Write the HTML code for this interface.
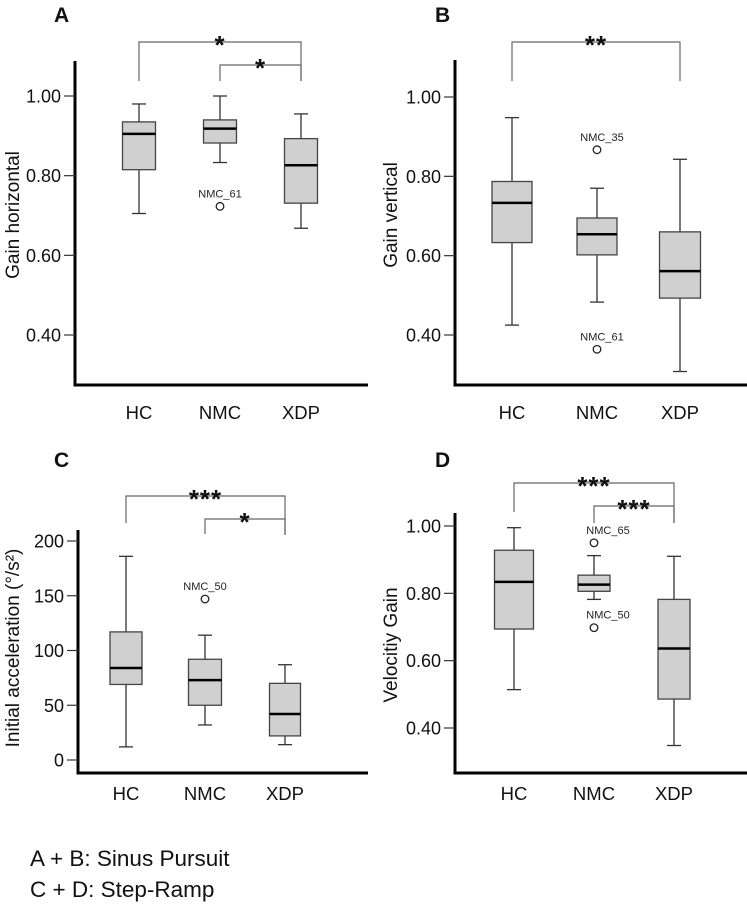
<!DOCTYPE html>
<html><head><meta charset="utf-8">
<style>
html,body{margin:0;padding:0;background:#fff;}
svg{display:block;font-family:"Liberation Sans",Arial,sans-serif;}
</style></head>
<body>
<svg id="fig" width="747" height="908" viewBox="0 0 747 908" xmlns="http://www.w3.org/2000/svg">
<text x="30" y="866" font-size="22.5" fill="#111">A + B: Sinus Pursuit</text>
<text x="30" y="897" font-size="22.5" fill="#111">C + D: Step-Ramp</text>
</svg>
<script>
const categories = ["HC","NMC","XDP"];
// each box: [whiskerHigh, q3, median, q1, whiskerLow]
const boxesA = [[0.98,0.935,0.905,0.815,0.705],[1.00,0.94,0.918,0.882,0.833],[0.955,0.893,0.826,0.731,0.668]];
const outliersA = [[1,0.723,"NMC_61"]];
const ticksA = [0.40,0.60,0.80,1.00];
const boxesB = [[0.948,0.787,0.733,0.633,0.425],[0.77,0.695,0.654,0.602,0.483],[0.843,0.66,0.561,0.493,0.308]];
const outliersB = [[1,0.867,"NMC_35"],[1,0.364,"NMC_61"]];
const ticksB = [0.40,0.60,0.80,1.00];
const boxesC = [[186,117,84,69,12],[114,92,73,50,32],[87,70,42,22,14]];
const outliersC = [[1,147,"NMC_50"]];
const ticksC = [0,50,100,150,200];
const boxesD = [[0.995,0.928,0.834,0.694,0.514],[0.912,0.854,0.826,0.806,0.782],[0.91,0.782,0.636,0.486,0.348]];
const outliersD = [[1,0.95,"NMC_65"],[1,0.698,"NMC_50"]];
const ticksD = [0.40,0.60,0.80,1.00];

const NS="http://www.w3.org/2000/svg";
const svg=document.getElementById('fig');
function mk(tag,attrs,parent,text){const e=document.createElementNS(NS,tag);for(const k in attrs)e.setAttribute(k,attrs[k]);if(text!==undefined)e.textContent=text;(parent||svg).appendChild(e);return e;}

function panel(cfg){
  const g=mk('g',{});
  
  
  const y=v=>cfg.y0+(v-cfg.v0)*(cfg.y1-cfg.y0)/(cfg.v1-cfg.v0);
  const lt=mk('text',{x:cfg.lx,y:cfg.ly,'font-size':21,'font-weight':'bold',fill:'#111'},g,cfg.letter);
  
  
  const ya=mk('line',{x1:cfg.ax,y1:cfg.atop,x2:cfg.ax,y2:cfg.abot,stroke:'#000','stroke-width':3},g);
  
  
  const xa=mk('line',{x1:cfg.ax-1.5,y1:cfg.abot,x2:cfg.aright,y2:cfg.abot,stroke:'#000','stroke-width':3},g);
  
  
  cfg.ticks.forEach(t=>{
    const yy=y(t);
    mk('line',{x1:cfg.ax-11,y1:yy,x2:cfg.ax,y2:yy,stroke:'#333','stroke-width':1.2},g);
    const tl=mk('text',{x:cfg.ax-14,y:yy+6.5,'font-size':18,'text-anchor':'end',fill:'#111'},g,cfg.fmt(t));
    
    
  });
  const yt=mk('text',{x:0,y:0,'font-size':19,'text-anchor':'middle',fill:'#111',transform:`translate(${cfg.tx},${cfg.ty}) rotate(-90)`},g,cfg.title);
  
  
  categories.forEach((c,i)=>{
    const cx=cfg.cx[i], w=cfg.bw[i], b=cfg.boxes[i];
    const bg=mk('g',{},g);
    
    
    mk('line',{x1:cx,y1:y(b[0]),x2:cx,y2:y(b[1]),stroke:'#333','stroke-width':1.3},bg);
    mk('line',{x1:cx,y1:y(b[3]),x2:cx,y2:y(b[4]),stroke:'#333','stroke-width':1.3},bg);
    mk('line',{x1:cx-7,y1:y(b[0]),x2:cx+7,y2:y(b[0]),stroke:'#333','stroke-width':1.3},bg);
    mk('line',{x1:cx-7,y1:y(b[4]),x2:cx+7,y2:y(b[4]),stroke:'#333','stroke-width':1.3},bg);
    mk('rect',{x:cx-w/2,y:y(b[1]),width:w,height:y(b[3])-y(b[1]),fill:'#d0d0d0',stroke:'#444','stroke-width':1.3},bg);
    mk('line',{x1:cx-w/2,y1:y(b[2]),x2:cx+w/2,y2:y(b[2]),stroke:'#000','stroke-width':2.5},bg);
    const xl=mk('text',{x:cx,y:cfg.xly,'font-size':18.5,'text-anchor':'middle',fill:'#111'},g,c);
    
    
  });
  cfg.outliers.forEach(o=>{
    const cx=cfg.cx[o[0]], yy=y(o[1]);
    const oc=mk('circle',{cx:cx,cy:yy,r:3.8,fill:'none',stroke:'#222','stroke-width':1.3},g);
    
    
    const ol=mk('text',{x:cx+cfg.olx,y:yy-9,'font-size':11,'text-anchor':'middle',fill:'#222'},g,o[2]);
    
    
  });
  cfg.brackets.forEach(br=>{
    const x1=cfg.cx[br.a], x2=cfg.cx[br.b];
    const p=mk('path',{d:`M${x1},${br.d1}V${br.y}H${x2}V${br.d2}`,fill:'none',stroke:'#666','stroke-width':1.2},g);
    
    
    const s=mk('text',{x:(x1+x2)/2,y:br.y+12,'font-size':26,'font-weight':'bold','text-anchor':'middle',fill:'#111','letter-spacing':'1'},g,br.s);
    
    
  });
}
const f2=v=>v.toFixed(2), f0=v=>String(v);
panel({letter:'A',lx:54,ly:22,ax:75,atop:61,abot:385,aright:368,v0:1.0,y0:96,v1:0.4,y1:335,ticks:ticksA,fmt:f2,
  title:'Gain horizontal',tx:19,ty:215,cx:[139,220,301],bw:[33,33,33],boxes:boxesA,outliers:outliersA,xly:419,olx:0,
  brackets:[{a:0,b:2,y:42,d1:81,d2:81,s:'*'},{a:1,b:2,y:65,d1:81,d2:81,s:'*'}]});
panel({letter:'B',lx:435,ly:22,ax:455,atop:60,abot:385,aright:747,v0:1.0,y0:97,v1:0.4,y1:335,ticks:ticksB,fmt:f2,
  title:'Gain vertical',tx:397,ty:215,cx:[512,597,680],bw:[40,40,41],boxes:boxesB,outliers:outliersB,xly:419,olx:5,
  brackets:[{a:0,b:2,y:42,d1:81,d2:81,s:'**'}]});
panel({letter:'C',lx:54,ly:467,ax:78,atop:530,abot:773,aright:368,v0:200,y0:541,v1:0,y1:760,ticks:ticksC,fmt:f0,
  title:'Initial acceleration (°/s²)',tx:19,ty:648,cx:[126,205,285],bw:[32,33,31],boxes:boxesC,outliers:outliersC,xly:800,olx:0,
  brackets:[{a:0,b:2,y:496,d1:523,d2:535,s:'***'},{a:1,b:2,y:519,d1:534,d2:535,s:'*'}]});
panel({letter:'D',lx:435,ly:467,ax:455,atop:513,abot:773,aright:747,v0:1.0,y0:526,v1:0.4,y1:728,ticks:ticksD,fmt:f2,
  title:'Velocitiy Gain',tx:397,ty:645,cx:[514,594,674],bw:[39,32,32],boxes:boxesD,outliers:outliersD,xly:800,olx:14,
  brackets:[{a:0,b:2,y:483,d1:512,d2:523,s:'***'},{a:1,b:2,y:506,d1:523,d2:523,s:'***'}]});
</script>
</body></html>
